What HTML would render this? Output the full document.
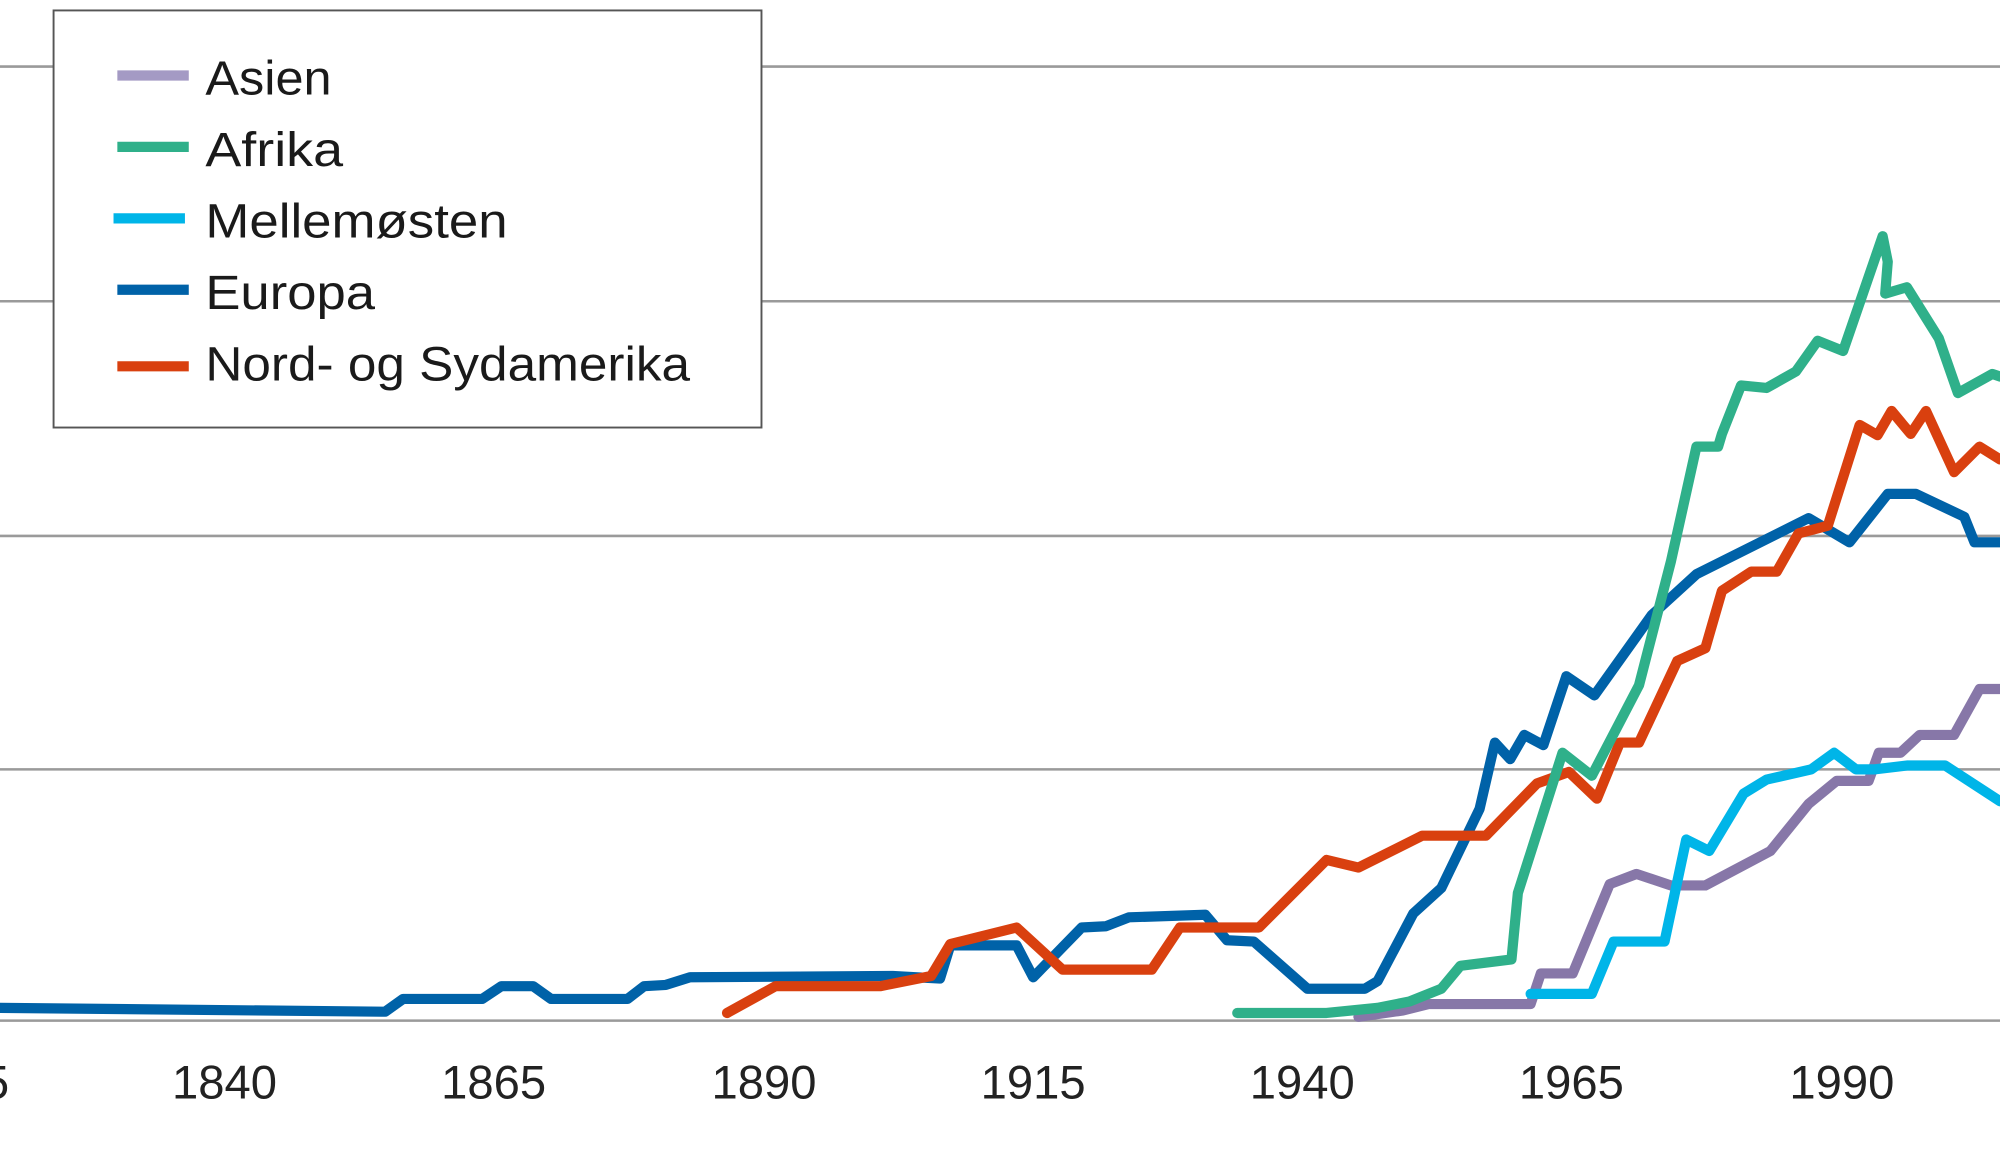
<!DOCTYPE html>
<html><head><meta charset="utf-8"><style>html,body{margin:0;padding:0;background:#fff}svg{display:block}</style></head>
<body>
<svg width="2000" height="1165" viewBox="0 0 1568 913" xmlns="http://www.w3.org/2000/svg" font-family="Liberation Sans, sans-serif">
<g stroke="#9a9a9a" stroke-width="2">
<line x1="0" y1="52" x2="1568" y2="52"/><line x1="0" y1="236" x2="1568" y2="236"/>
<line x1="0" y1="420" x2="1568" y2="420"/><line x1="0" y1="603" x2="1568" y2="603"/>
<line x1="0" y1="800" x2="1568" y2="800"/></g>
<g font-size="37" fill="#222" text-anchor="middle">
<text x="-34" y="861">1815</text><text x="176" y="861">1840</text><text x="387" y="861">1865</text><text x="599" y="861">1890</text><text x="810" y="861">1915</text><text x="1021" y="861">1940</text><text x="1232" y="861">1965</text><text x="1444" y="861">1990</text></g>
<g fill="none" stroke-width="8" stroke-linejoin="round" stroke-linecap="round">
<polyline stroke="#0062a8" points="0,790 302,793 316,783 378,783 393,773 418,773 432,783 492,783 505,773 522,772 541,766 700,765 737,767 745,741 797,741 810,766 848,727 867,726 885,719 945,717 962,737 983,738 1025,775 1070,775 1080,769 1108,716 1130,696 1160,634 1172,582 1184,595 1195,576 1210,584 1228,530 1250,545 1295,482 1330,450 1418,406 1450,425 1480,387 1502,387 1540,405 1548,425 1568,425"/>
<polyline stroke="#d9400f" points="570,794 608,773 690,773 730,765 745,740 797,727 833,760 903,760 925,727 987,727 1040,674 1065,680 1115,655 1165,655 1205,614 1230,605 1252,626 1270,582 1285,582 1315,518 1337,508 1350,463 1373,448 1393,448 1410,418 1433,412 1458,333 1472,341 1483,322 1498,340 1510,322 1532,370 1552,350 1568,360"/>
<polyline stroke="#8777a8" points="1065,797 1100,792 1120,787 1200,787 1208,763 1233,763 1262,693 1283,685 1310,694 1337,694 1388,667 1418,630 1440,612 1465,612 1473,590 1490,590 1505,576 1532,576 1552,540 1568,540"/>
<polyline stroke="#00b5e8" points="1200,779 1248,779 1265,738 1305,738 1322,658 1340,667 1367,622 1385,611 1420,603 1438,590 1455,603 1470,603 1495,600 1525,600 1568,628"/>
<polyline stroke="#2fb08a" points="970,794 1040,794 1080,790 1105,785 1130,775 1145,757 1185,752 1190,700 1225,590 1248,608 1285,537 1310,440 1330,350 1347,350 1350,340 1365,302 1385,304 1408,291 1425,267 1445,275 1476,185 1480,205 1478,230 1495,225 1520,265 1535,308 1562,293 1568,295"/>
</g>
<rect x="42" y="8" width="555" height="327" fill="#fff" stroke="#555" stroke-width="1.5"/>
<g stroke-width="8">
<line x1="92" y1="59" x2="148" y2="59" stroke="#a49ac4"/>
<line x1="92" y1="115" x2="148" y2="115" stroke="#2fb08a"/>
<line x1="89" y1="171" x2="145" y2="171" stroke="#00b5e8"/>
<line x1="92" y1="227" x2="148" y2="227" stroke="#0062a8"/>
<line x1="92" y1="287" x2="148" y2="287" stroke="#d9400f"/></g>
<g font-size="38" fill="#1a1a1a">
<text x="161" y="74" textLength="99" lengthAdjust="spacingAndGlyphs">Asien</text>
<text x="161" y="130" textLength="108" lengthAdjust="spacingAndGlyphs">Afrika</text>
<text x="161" y="186" textLength="237" lengthAdjust="spacingAndGlyphs">Mellemøsten</text>
<text x="161" y="242" textLength="133" lengthAdjust="spacingAndGlyphs">Europa</text>
<text x="161" y="298" textLength="380" lengthAdjust="spacingAndGlyphs">Nord- og Sydamerika</text></g>
</svg>
</body></html>
